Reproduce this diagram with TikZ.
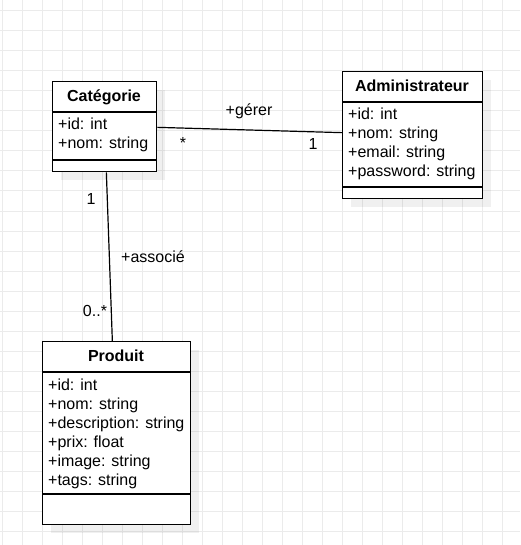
\documentclass[tikz,border=0pt]{standalone}
\usepackage{fontspec}
\setmainfont{Liberation Sans}
\usetikzlibrary{shadows}
\definecolor{gridgray}{HTML}{EBEBEB}
\begin{document}
\begin{tikzpicture}[x=1pt,y=-1pt,
  gridline/.style={draw=gridgray,line width=1pt},
  umlbox/.style={rectangle,draw=black,line width=1.3pt,fill=white,anchor=north west,inner sep=0pt,
    general shadow={fill=black,opacity=0.06,shadow xshift=8pt,shadow yshift=-8pt}},
  sepline/.style={draw=black,line width=1.3pt},
  assoc/.style={draw=black,line width=1.2pt},
  title/.style={anchor=base,inner sep=0pt,font=\fontsize{16}{19}\selectfont\bfseries},
  attr/.style={anchor=base west,inner sep=0pt,font=\fontsize{16}{19}\selectfont},
  lbl/.style={anchor=base,inner sep=0pt,font=\fontsize{16}{19}\selectfont}
]
\useasboundingbox (0,0) rectangle (520,545);
\fill[white] (0,0) rectangle (520,545);
% grid
\foreach \gx in {2,22,...,520} \draw[gridline] (\gx,0) -- (\gx,545);
\foreach \gy in {11,31,...,545} \draw[gridline] (0,\gy) -- (520,\gy);

% Categorie
\node[umlbox,minimum width=104pt,minimum height=90pt] (cat) at (52,81) {};
\draw[sepline] (52,112) -- (156,112);
\draw[sepline] (52,160) -- (156,160);
\node[title] (catT) at (104,101.7) {Catégorie};
\foreach \t [count=\i] in {+id: int,+nom: string}
  \node[attr] (catA\i) at (58,{130+19*(\i-1)}) {\t};

% Administrateur
\node[umlbox,minimum width=140pt,minimum height=127pt] (adm) at (342,71) {};
\draw[sepline] (342,102) -- (482,102);
\draw[sepline] (342,187) -- (482,187);
\node[title] (admT) at (412,91.7) {Administrateur};
\foreach \t [count=\i] in {+id: int,+nom: string,+email: string,+password: string}
  \node[attr] (admA\i) at (348,{120+19*(\i-1)}) {\t};

% Produit
\node[umlbox,minimum width=148pt,minimum height=183pt] (prod) at (42,341) {};
\draw[sepline] (42,372) -- (190,372);
\draw[sepline] (42,494) -- (190,494);
\node[title] (prodT) at (116,361.7) {Produit};
\foreach \t [count=\i] in {+id: int,+nom: string,+description: string,+prix: float,+image: string,+tags: string}
  \node[attr] (prodA\i) at (48,{390+19*(\i-1)}) {\t};

% associations
\draw[assoc] ([yshift=-0.7pt]cat.east) -- ([yshift=2.5pt]adm.west);
\draw[assoc] ([xshift=1.7pt]cat.south) -- ([xshift=-4.3pt]prod.north);

% labels
\node[lbl] (gerer) at (249,116) {+gérer};
\node[lbl] (m1) at (183,149) {*};
\node[lbl] (m2) at (313,150) {1};
\node[lbl] (assocL) at (153,262.7) {+associé};
\node[lbl] (m3) at (91,204.3) {1};
\node[lbl] (m4) at (95,316.7) {0..*};
\end{tikzpicture}
\end{document}
